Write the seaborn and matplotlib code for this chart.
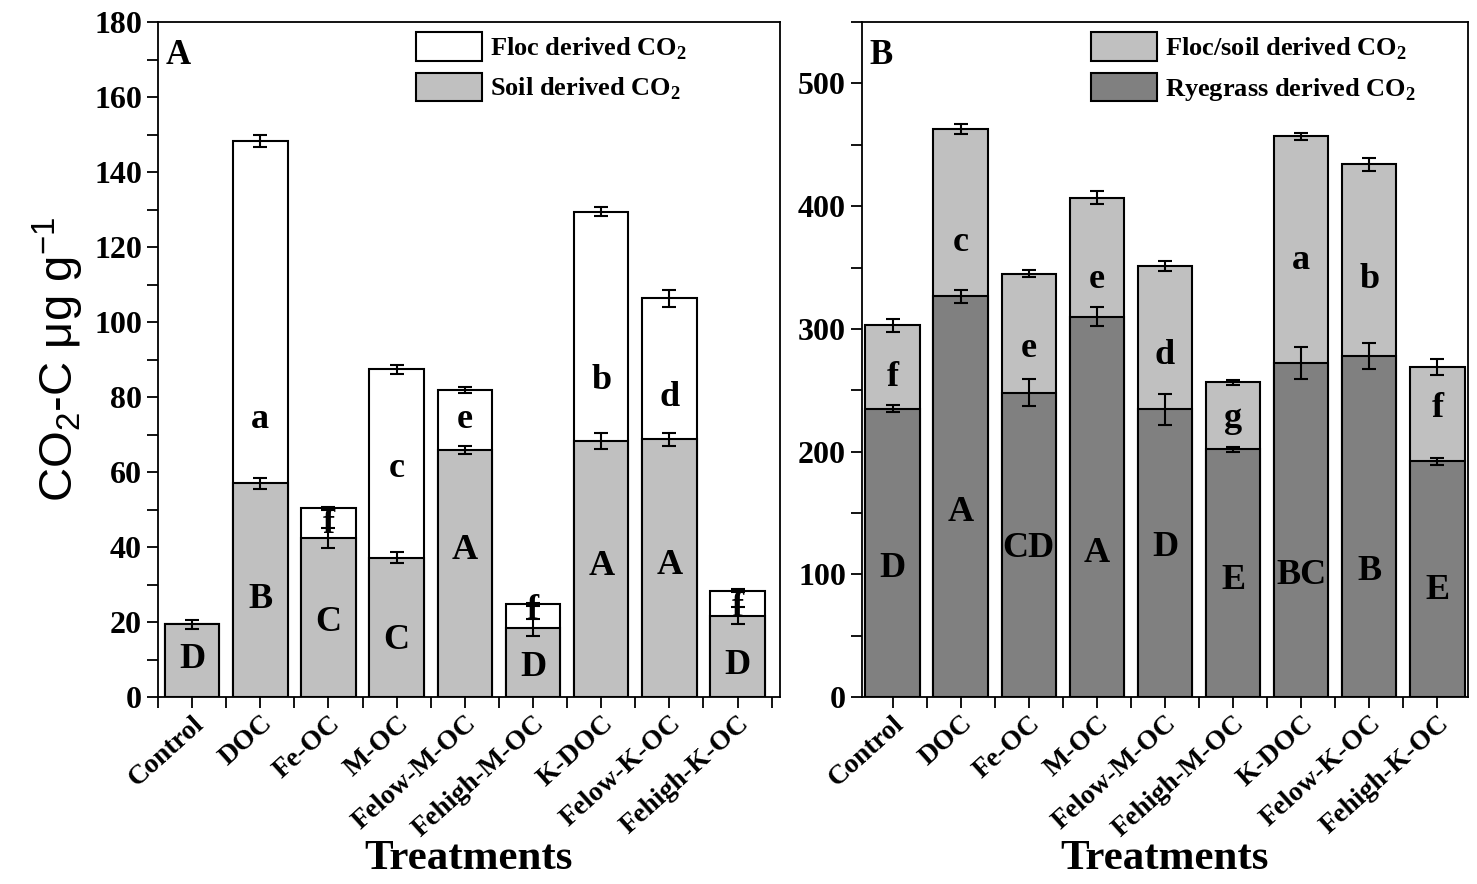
import numpy as np
import pandas as pd
import seaborn as sns
import matplotlib.pyplot as plt
from matplotlib.patches import Patch
from matplotlib.ticker import MultipleLocator

treatments = ['Control', 'DOC', 'Fe-OC', 'M-OC', 'Felow-M-OC', 'Fehigh-M-OC',
              'K-DOC', 'Felow-K-OC', 'Fehigh-K-OC']

# panel A: soil part and bar total (soil + floc)
soil_a = [19.4, 57.0, 42.5, 37.2, 65.9, 18.5, 68.3, 68.7, 21.7]
soil_a_err = [1.2, 1.5, 2.7, 1.4, 1.0, 2.2, 2.2, 1.7, 2.2]
total_a = [19.4, 148.3, 50.3, 87.4, 82.0, 24.7, 129.4, 106.3, 28.3]
total_a_err = [np.nan, 1.6, 0.4, 1.2, 0.8, 0.4, 1.2, 2.3, 0.4]
floc_letters_a = ['', 'a', 'f', 'c', 'e', 'f', 'b', 'd', 'f']
floc_letter_y_a = [0, 74, 46, 61, 74, 23, 84.5, 80, 24]
soil_letters_a = ['D', 'B', 'C', 'C', 'A', 'D', 'A', 'A', 'D']
soil_letter_y_a = [10, 26, 20, 15, 39, 8, 34.7, 35, 8.5]

# panel B: ryegrass part and bar total (ryegrass + floc/soil)
rye_b = [235, 326.5, 248, 310, 234.5, 202, 272, 278, 192]
rye_b_err = [3.0, 5.0, 10.9, 7.7, 12.6, 2.0, 13.0, 10.8, 2.7]
total_b = [303, 463, 345, 407, 351, 256.5, 457, 434, 269]
total_b_err = [5.4, 3.8, 3.0, 5.0, 4.0, 2.0, 3.0, 5.4, 6.5]
top_letters_b = ['f', 'c', 'e', 'e', 'd', 'g', 'a', 'b', 'f']
top_letter_y_b = [260, 370, 284, 340, 278, 227, 356, 340, 235]
rye_letters_b = ['D', 'A', 'CD', 'A', 'D', 'E', 'BC', 'B', 'E']
rye_letter_y_b = [105, 150, 121, 117, 122, 95, 99, 102, 87]

serif = 'Liberation Serif'
sns.set_style('ticks')
plt.rcParams['font.family'] = [serif, 'DejaVu Serif']
plt.rcParams['mathtext.fontset'] = 'custom'
plt.rcParams['mathtext.rm'] = serif
plt.rcParams['mathtext.bf'] = serif + ':bold'
plt.rcParams['mathtext.sf'] = 'Liberation Sans'
for key in ['text.color', 'axes.labelcolor', 'xtick.color', 'ytick.color', 'axes.edgecolor']:
    plt.rcParams[key] = 'black'

df_a = pd.DataFrame({'treat': treatments, 'soil': soil_a, 'total': total_a})
df_b = pd.DataFrame({'treat': treatments, 'rye': rye_b, 'total': total_b})

fig = plt.figure(figsize=(14.77, 8.84), dpi=100)
ax1 = fig.add_axes([0.107, 0.2115, 0.421, 0.7635])
ax2 = fig.add_axes([0.5836, 0.2115, 0.4103, 0.7635])

light = '#c0c0c0'
dark = '#808080'
bar_kw = dict(edgecolor='black', linewidth=1.5, width=0.8, saturation=1, errorbar=None)
err_kw = dict(fmt='none', ecolor='black', elinewidth=1.5, capsize=5, capthick=1.5, zorder=4)

sns.barplot(data=df_a, x='treat', y='total', color='white', ax=ax1, **bar_kw)
sns.barplot(data=df_a, x='treat', y='soil', color=light, ax=ax1, **bar_kw)
pos = np.arange(len(treatments))
ax1.errorbar(pos, total_a, yerr=total_a_err, **err_kw)
ax1.errorbar(pos, soil_a, yerr=soil_a_err, **err_kw)

sns.barplot(data=df_b, x='treat', y='total', color=light, ax=ax2, **bar_kw)
sns.barplot(data=df_b, x='treat', y='rye', color=dark, ax=ax2, **bar_kw)
ax2.errorbar(pos, total_b, yerr=total_b_err, **err_kw)
ax2.errorbar(pos, rye_b, yerr=rye_b_err, **err_kw)

for i in range(len(treatments)):
    if floc_letters_a[i]:
        ax1.text(i, floc_letter_y_a[i], floc_letters_a[i], ha='center', va='center',
                 fontsize=26, fontweight='bold', zorder=5)
    ax1.text(i, soil_letter_y_a[i], soil_letters_a[i], ha='center', va='center',
             fontsize=26, fontweight='bold', zorder=5)
    ax2.text(i, top_letter_y_b[i], top_letters_b[i], ha='center', va='center',
             fontsize=26, fontweight='bold', zorder=5)
    ax2.text(i, rye_letter_y_b[i], rye_letters_b[i], ha='center', va='center',
             fontsize=26, fontweight='bold', zorder=5)

ax1.set_ylim(0, 180)
ax1.yaxis.set_major_locator(MultipleLocator(20))
ax1.yaxis.set_minor_locator(MultipleLocator(10))
ax1.set_xlim(-0.5, 8.62)
ax2.set_ylim(0, 550)
ax2.yaxis.set_major_locator(MultipleLocator(100))
ax2.yaxis.set_minor_locator(MultipleLocator(50))
ax2.set_xlim(-0.45, 8.45)

for ax, letter in [(ax1, 'A'), (ax2, 'B')]:
    ax.xaxis.set_minor_locator(MultipleLocator(0.5))
    ax.tick_params(axis='both', which='major', direction='out', length=8, width=1.3)
    ax.tick_params(axis='both', which='minor', direction='out', length=8, width=1.3)
    ax.tick_params(axis='x', which='major', pad=2)
    ax.tick_params(axis='y', labelsize=23)
    for lab in ax.get_yticklabels():
        lab.set_fontweight('bold')
    ax.set_xticks(pos)
    ax.set_xticklabels(treatments, rotation=42, ha='right', rotation_mode='anchor',
                       fontsize=20, fontweight='bold')
    ax.set_xlabel('Treatments', fontsize=31, fontweight='bold')
    ax.xaxis.set_label_coords(0.5, -0.212)
    ax.set_ylabel('')
    for s in ax.spines.values():
        s.set_visible(True)
        s.set_linewidth(1.3)
    ax.text(0.012, 0.975, letter, transform=ax.transAxes, ha='left', va='top',
            fontsize=25, fontweight='bold')

ax1.set_ylabel(r'CO$_\mathsf{2}$-C μg g$^\mathsf{-1}$', fontsize=34,
               family='Liberation Sans', labelpad=6)

leg_kw = dict(frameon=False, loc='upper left', handlelength=2.5,
              handleheight=1.3, handletextpad=0.3, labelspacing=0.4, borderpad=0,
              borderaxespad=0, prop={'family': serif, 'weight': 'bold', 'size': 19})
ax1.legend(handles=[Patch(facecolor='white', edgecolor='black', linewidth=1.5,
                          label=r'Floc derived CO$_\mathbf{2}$'),
                    Patch(facecolor=light, edgecolor='black', linewidth=1.5,
                          label=r'Soil derived CO$_\mathbf{2}$')],
           bbox_to_anchor=(0.415, 0.985), **leg_kw)
ax2.legend(handles=[Patch(facecolor=light, edgecolor='black', linewidth=1.5,
                          label=r'Floc/soil derived CO$_\mathbf{2}$'),
                    Patch(facecolor=dark, edgecolor='black', linewidth=1.5,
                          label=r'Ryegrass derived CO$_\mathbf{2}$')],
           bbox_to_anchor=(0.378, 0.985), **leg_kw)

fig.savefig('out.png', dpi=100)
